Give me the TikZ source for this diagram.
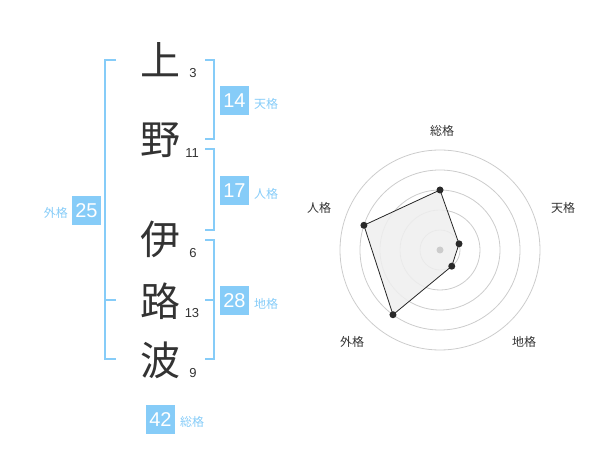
\documentclass[tikz,border=0pt]{standalone}
\usetikzlibrary{calc}
\usepackage{fontspec}
\setmainfont{Noto Sans CJK JP}
\newfontfamily\cjk{Noto Sans CJK JP}
\newfontfamily\arialf{Liberation Sans}
\definecolor{boxblue}{HTML}{86CCF8}
\definecolor{brk}{HTML}{86CCF8}
\definecolor{ink}{HTML}{333333}
\definecolor{ringc}{HTML}{CCCCCC}
\definecolor{polyfill}{HTML}{EFEFEF}
\begin{document}
\begin{tikzpicture}[x=1pt,y=-1pt,
  bigchar/.style={text=ink,font=\cjk\fontsize{40}{40}\selectfont,inner sep=0pt},
  strokes/.style={text=ink,font=\arialf\fontsize{13}{13}\selectfont,inner sep=0pt},
  valbox/.style={fill=boxblue,text=white,minimum size=29pt,inner sep=0pt,font=\arialf\fontsize{20}{20}\selectfont},
  kaku/.style={text=boxblue,font=\cjk\fontsize{12}{12}\selectfont,inner sep=0pt},
  bracket/.style={draw=brk,line width=2pt},
  ring/.style={draw=ringc,line width=0.8pt},
  rlabel/.style={text=ink,font=\cjk\fontsize{12}{12}\selectfont,inner sep=0pt},
  dot/.style={circle,fill=ink!80!black,minimum size=7pt,inner sep=0pt}]
\useasboundingbox (0,0) rectangle (600,470);
% characters
\node[bigchar] (c1) at (160,60) {上};
\node[bigchar] (c2) at (160,140) {野};
\node[bigchar] (c3) at (160,239) {伊};
\node[bigchar] (c4) at (160,301) {路};
\node[bigchar] (c5) at (160,360) {波};
\node[strokes] (s1) at (193,73) {3};
\node[strokes] (s2) at (192,153) {11};
\node[strokes] (s3) at (193,253) {6};
\node[strokes] (s4) at (192,313) {13};
\node[strokes] (s5) at (193,373) {9};
% brackets
\draw[bracket] (116,60) -- (105,60) -- (105,359) -- (116,359);
\draw[bracket] (105,300) -- (116,300);
\draw[bracket] (205,60) -- (214,60) -- (214,139) -- (205,139);
\draw[bracket] (205,149) -- (214,149) -- (214,230) -- (205,230);
\draw[bracket] (205,240) -- (214,240) -- (214,359) -- (205,359);
\draw[bracket] (205,300) -- (214,300);
% value boxes
\node[valbox] (gai) at (86.5,210.5) {25};
\node[kaku,anchor=east] (gail) at (68,213) {外格};
\node[valbox] (ten) at (234.5,100.5) {14};
\node[kaku,anchor=west] (tenl) at (254,104) {天格};
\node[valbox] (jin) at (234.5,190.5) {17};
\node[kaku,anchor=west] (jinl) at (254,194) {人格};
\node[valbox] (chi) at (234.5,300.5) {28};
\node[kaku,anchor=west] (chil) at (254,304) {地格};
\node[valbox] (sou) at (160.5,419.5) {42};
\node[kaku,anchor=west] (soul) at (180,422) {総格};
% radar
\coordinate (o) at (440,250);
\foreach \r in {20,40,60,80,100} \draw[ring] (o) circle (\r);
\coordinate (p1) at ($(o)+(-90:60)$);
\coordinate (p2) at ($(o)+(-18:20)$);
\coordinate (p3) at ($(o)+(54:20)$);
\coordinate (p4) at ($(o)+(126:80)$);
\coordinate (p5) at ($(o)+(198:80)$);
\draw[fill=polyfill,fill opacity=0.85,draw=black!85,line width=0.8pt] (p1) -- (p2) -- (p3) -- (p4) -- (p5) -- cycle;
\fill[ringc] (o) circle (3.5);
\foreach \p in {p1,p2,p3,p4,p5} \node[dot] at (\p) {};
\node[rlabel] (l1) at (442,131) {総格};
\node[rlabel] (l2) at (563,208) {天格};
\node[rlabel] (l3) at (524,342) {地格};
\node[rlabel] (l4) at (352,342) {外格};
\node[rlabel] (l5) at (319,208) {人格};
\end{tikzpicture}
\end{document}
